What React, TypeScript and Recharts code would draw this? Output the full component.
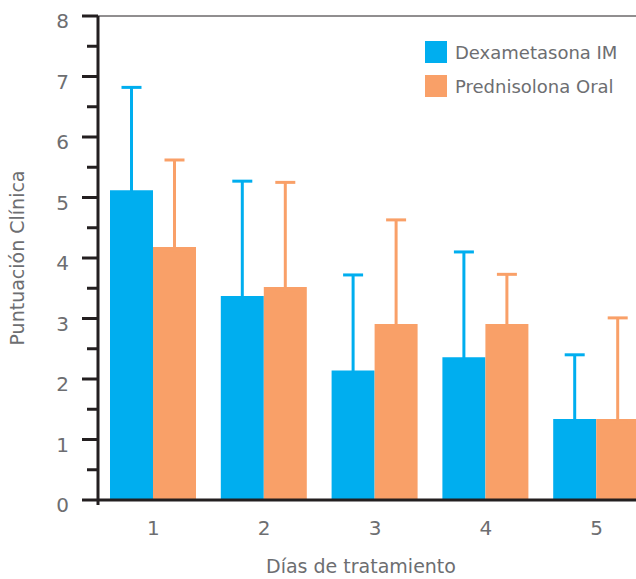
import React from 'react';
import { BarChart, Bar, XAxis, YAxis, ErrorBar, Legend, ReferenceLine, Label } from 'recharts';

const days = ['1', '2', '3', '4', '5'];
const dexMean = [5.12, 3.37, 2.14, 2.36, 1.34];
const dexUpper = [6.82, 5.27, 3.72, 4.10, 2.40];
const predMean = [4.18, 3.52, 2.91, 2.91, 1.34];
const predUpper = [5.62, 5.25, 4.63, 3.73, 3.01];
const yTicks = [0, 0.5, 1, 1.5, 2, 2.5, 3, 3.5, 4, 4.5, 5, 5.5, 6, 6.5, 7, 7.5, 8];

const seriesNames = ['Dexametasona IM', 'Prednisolona Oral'];
const BLUE = '#00AEEF';
const ORANGE = '#F9A068';
const TEXT = '#6d6e71';
const AXIS = '#231f20';
const FONT = '"DejaVu Sans", Verdana, sans-serif';
// lower whisker kept inside the bar so its cap is hidden (only the upper error is shown)
const HIDDEN_LOW = 0.05;

const data = days.map((d, i) => ({
  day: d,
  dex: dexMean[i],
  dexErr: [HIDDEN_LOW, dexUpper[i] - dexMean[i]],
  pred: predMean[i],
  predErr: [HIDDEN_LOW, predUpper[i] - predMean[i]],
}));

const YTick = (props: any) => {
  const { x, y, payload } = props;
  const v = payload.value;
  const major = Number.isInteger(v);
  return (
    <g>
      <line x1={x - (major ? 16 : 11)} y1={y} x2={x} y2={y} stroke={AXIS} strokeWidth={3} />
      {v === 0 && <line x1={x} y1={y} x2={x} y2={y + 5} stroke={AXIS} strokeWidth={3} />}
      {major && (
        <text x={x - 29} y={y + 12} textAnchor="end" fill={TEXT} fontSize={20} fontFamily={FONT}>
          {v}
        </text>
      )}
    </g>
  );
};

const XTick = (props: any) => {
  const { x, y, payload } = props;
  return (
    <text x={x} y={y + 35} textAnchor="middle" fill={TEXT} fontSize={20} fontFamily={FONT}>
      {payload.value}
    </text>
  );
};

const LegendContent = () => (
  <div style={{ fontFamily: FONT, fontSize: 18, color: TEXT }}>
    {[BLUE, ORANGE].map((c, i) => (
      <div key={i} style={{ display: 'flex', alignItems: 'center', height: 34, whiteSpace: 'nowrap' }}>
        <div style={{ width: 22, height: 22, background: c, marginRight: 8 }} />
        <span>{seriesNames[i]}</span>
      </div>
    ))}
  </div>
);

export default function App() {
  return (
    <div style={{ position: 'absolute', left: 0, top: 0, width: 636, height: 579, overflow: 'hidden', background: '#fff' }}>
      <BarChart
        width={660}
        height={579}
        data={data}
        margin={{ top: 16, right: 8, bottom: 39, left: 0 }}
        barSize={43}
        barGap={0}
      >
        <ReferenceLine y={8} stroke={AXIS} strokeWidth={1} />
        <XAxis
          dataKey="day"
          height={40}
          axisLine={{ stroke: AXIS, strokeWidth: 3 }}
          tickLine={false}
          tickSize={0}
          tickMargin={0}
          tick={(p: any) => <XTick {...p} />}
          interval={0}
        >
          <Label
            content={() => (
              <text x={361} y={573} textAnchor="middle" fill={TEXT} fontSize={19} fontFamily={FONT}>
                Días de tratamiento
              </text>
            )}
          />
        </XAxis>
        <YAxis
          width={98}
          domain={[0, 8]}
          ticks={yTicks}
          interval={0}
          axisLine={{ stroke: AXIS, strokeWidth: 3 }}
          tickLine={false}
          tickSize={0}
          tickMargin={0}
          tick={(p: any) => <YTick {...p} />}
        >
          <Label
            content={() => (
              <text
                x={24}
                y={258}
                transform="rotate(-90 24 258)"
                textAnchor="middle"
                fill={TEXT}
                fontSize={19}
                fontFamily={FONT}
              >
                Puntuación Clínica
              </text>
            )}
          />
        </YAxis>
        <Legend
          layout="vertical"
          align="center"
          verticalAlign="middle"
          content={() => <LegendContent />}
          wrapperStyle={{ position: 'absolute', left: 425, top: 35, width: 'auto' }}
        />
        <Bar dataKey="dex" name={seriesNames[0]} fill={BLUE} isAnimationActive={false}>
          <ErrorBar dataKey="dexErr" direction="y" width={10} stroke={BLUE} strokeWidth={3} />
        </Bar>
        <Bar dataKey="pred" name={seriesNames[1]} fill={ORANGE} isAnimationActive={false}>
          <ErrorBar dataKey="predErr" direction="y" width={10} stroke={ORANGE} strokeWidth={3} />
        </Bar>
      </BarChart>
    </div>
  );
}
